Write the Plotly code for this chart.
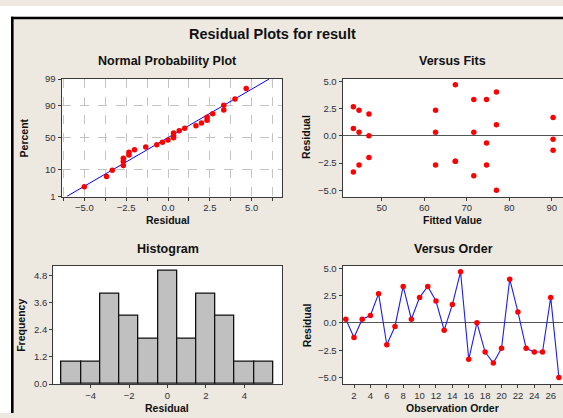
import numpy as np
import plotly.graph_objects as go
from statistics import NormalDist

# ---------------- data ----------------
observation = list(range(1, 28))
residual = [0.33, -1.33, 0.33, 0.67, 2.67, -2.0, -0.33, 3.33, 0.33, 2.33,
            3.33, 2.0, -0.67, 1.67, 4.67, -3.33, 0.0, -2.67, -3.67, -2.33,
            4.0, 1.0, -2.33, -2.67, -2.67, 2.33, -5.0]
fitted = [44.67, 90.33, 62.67, 43.33, 43.33, 47.0, 90.33, 71.67, 71.67, 44.67,
          74.67, 47.0, 74.67, 90.33, 67.33, 43.33, 47.0, 44.67, 71.67, 67.33,
          77.0, 77.0, 67.33, 62.67, 74.67, 62.67, 77.0]
pct_ticks = [1, 10, 50, 90, 99]
pct_labels = ["1", "10", "50", "90", "99"]

W, H = 563, 418
def X(px): return px / W
def Y(py): return 1 - py / H

nd = NormalDist()
n = len(residual)
srt = sorted(residual)
zq = [nd.inv_cdf((i + 1 - 0.3) / (n + 0.4)) for i in range(n)]
mu = float(np.mean(residual))
sd = float(np.std(residual, ddof=1))
zline = [nd.inv_cdf(0.01), nd.inv_cdf(0.99)]
xline = [mu + sd * z for z in zline]

edges = np.arange(-5.5, 6.0, 1.0)
counts, _ = np.histogram(residual, bins=edges)
centers = (edges[:-1] + edges[1:]) / 2

BG = "#EDE9E0"
RED = "#FF0000"
TICKF = dict(family="Liberation Sans, Arial, sans-serif", size=9.5, color="#2e2e3a")
LBLF = dict(family="Liberation Sans, Arial, sans-serif", size=10.5, color="#111111", weight=700)
TITF = dict(family="Liberation Sans, Arial, sans-serif", size=12.5, color="#111111", weight=700)
MAINF = dict(family="Liberation Sans, Arial, sans-serif", size=14.5, color="#111111", weight=700)

fig = go.Figure()

mk = dict(color=RED, size=5.5, symbol="circle")
# Normal probability plot
fig.add_trace(go.Scatter(x=xline, y=zline, mode="lines", line=dict(color="#0000FF", width=1),
                         xaxis="x", yaxis="y", showlegend=False, hoverinfo="skip"))
fig.add_trace(go.Scatter(x=srt, y=zq, mode="markers", marker=mk, xaxis="x", yaxis="y", showlegend=False))
# Versus fits
fig.add_trace(go.Scatter(x=fitted, y=residual, mode="markers", marker=mk, xaxis="x2", yaxis="y2", showlegend=False))
# Histogram
fig.add_trace(go.Bar(x=centers, y=counts, width=1.0, marker=dict(color="#C0C0C0", line=dict(color="#111111", width=1.3)),
                     xaxis="x3", yaxis="y3", showlegend=False))
# Versus order
fig.add_trace(go.Scatter(x=observation, y=residual, mode="lines+markers", line=dict(color="#1a1aff", width=1.1),
                         marker=mk, xaxis="x4", yaxis="y4", showlegend=False))

common = dict(showline=True, linecolor="#3a3a3a", linewidth=1.3, ticks="outside", ticklen=3,
              tickcolor="#3a3a3a", tickfont=TICKF, showgrid=False, zeroline=False)
xcommon = dict(common, ticklabelstandoff=-1)

# domains in pixels
top_dom = [Y(196), Y(75)]
bot_dom = [Y(388.3), Y(266.7)]

fig.update_layout(
    width=W, height=H, margin=dict(l=0, r=0, t=0, b=0),
    paper_bgcolor=BG, plot_bgcolor="white",
    xaxis=dict(xcommon, domain=[X(61.7), X(281.7)], range=[-6.35, 6.79], dtick=2.5, tick0=0, tickformat=".1f",
               mirror=True, showgrid=True, gridcolor="#C4C4C4", griddash="dash", gridwidth=1,
               minor=dict(dtick=1.25, tick0=0, showgrid=True, gridcolor="#C4C4C4", griddash="dash",
                          ticks="outside", ticklen=3, tickcolor="#3a3a3a"), anchor="y"),
    yaxis=dict(common, domain=top_dom, range=[-2.35, 2.33], tickvals=[nd.inv_cdf(p / 100) for p in pct_ticks],
               ticktext=pct_labels, mirror=True, showgrid=True, gridcolor="#C4C4C4", griddash="dash", anchor="x"),
    xaxis2=dict(xcommon, domain=[X(342.7), 1.0], range=[40.82, 92.66], tickvals=[50, 60, 70, 80, 90],
                mirror=True, anchor="y2"),
    yaxis2=dict(common, domain=top_dom, range=[-5.6, 5.2], tickvals=[-5, -2.5, 0, 2.5, 5], tickformat=".1f",
                zeroline=True, zerolinecolor="#555555", zerolinewidth=1.3, anchor="x2"),
    xaxis3=dict(xcommon, domain=[X(53.3), X(281.7)], range=[-5.94, 5.94], tickvals=[-4, -2, 0, 2, 4],
                mirror=True, anchor="y3"),
    yaxis3=dict(common, domain=bot_dom, range=[0, 5.23], tickvals=[0, 1.2, 2.4, 3.6, 4.8], tickformat=".1f",
                mirror=True, anchor="x3"),
    xaxis4=dict(xcommon, domain=[X(342.7), 1.0], range=[0.62, 27.5], tickvals=list(range(2, 27, 2)),
                mirror=True, anchor="y4"),
    yaxis4=dict(common, domain=bot_dom, range=[-5.6, 5.23], tickvals=[-5, -2.5, 0, 2.5, 5], tickformat=".1f",
                zeroline=True, zerolinecolor="#555555", zerolinewidth=1.3, anchor="x4"),
    bargap=0,
)

ann = []
def A(text, px, py, font, angle=0):
    ann.append(dict(text=text, x=X(px), y=Y(py), xref="paper", yref="paper", showarrow=False,
                    xanchor="center", yanchor="middle", font=font, textangle=angle))

A("Residual Plots for result", 272, 28.5, MAINF)
A("Normal Probability Plot", 167, 56, TITF)
A("Versus Fits", 452, 56, TITF)
A("Histogram", 167.5, 249.5, TITF)
A("Versus Order", 453, 249.5, TITF)
A("Residual", 167.5, 219.5, LBLF)
A("Fitted Value", 452.5, 219.5, LBLF)
A("Residual", 167, 412.5, LBLF)
A("Observation Order", 452.5, 412.5, LBLF)
A("Percent", 24, 136, LBLF, -90)
A("Residual", 306.5, 135, LBLF, -90)
A("Frequency", 21.5, 328, LBLF, -90)
A("Residual", 307, 328, LBLF, -90)
fig.update_layout(annotations=ann)

shapes = [
    dict(type="rect", xref="paper", yref="paper", x0=0, x1=1, y0=Y(11), y1=1, fillcolor="white", line=dict(width=0), layer="below"),
    dict(type="rect", xref="paper", yref="paper", x0=0, x1=X(11), y0=0, y1=1, fillcolor="white", line=dict(width=0), layer="below"),
    dict(type="line", xref="paper", yref="paper", x0=X(12.3), x1=X(12.3), y0=0, y1=Y(11), line=dict(color="black", width=2.6)),
    dict(type="line", xref="paper", yref="paper", x0=X(11), x1=1, y0=Y(12.3), y1=Y(12.3), line=dict(color="black", width=2.6)),
]
fig.update_layout(shapes=shapes)

fig.write_html("out.html")
